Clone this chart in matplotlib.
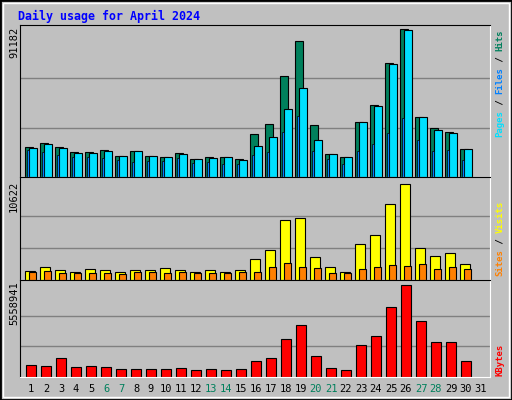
import matplotlib
matplotlib.use("Agg")
import matplotlib.pyplot as plt
from matplotlib.patches import Rectangle

days = list(range(1, 32))
weekend = [6, 7, 13, 14, 20, 21, 27, 28]

hits = [18770, 21250, 18770, 15680, 15680, 16920, 13200, 16300, 13200, 12580, 15060, 11350, 12580, 12580, 11350,
        26200, 32390, 62090, 83750, 31770, 14440, 12580, 33630, 44150, 70140, 91182, 36720, 29910, 27440, 17530]
files = [18150, 20630, 18150, 15060, 15060, 16300, 13200, 16300, 13200, 12580, 14440, 11350, 11970, 12580, 10730,
         19390, 24340, 41670, 54670, 22490, 14440, 12580, 33630, 43530, 69520, 90560, 36720, 28680, 26820, 17530]
pages = [16500, 15680, 13820, 12580, 12580, 11970, 10730, 9490, 10110, 10110, 11970, 8870, 9490, 8250, 8250,
         13820, 15680, 27440, 37340, 16300, 11350, 8250, 16300, 20630, 26820, 36100, 22490, 16300, 16920, 10730]
visits = [960, 1420, 1070, 840, 1190, 1070, 840, 1070, 1070, 1300, 1070, 840, 1070, 840, 1070,
          2340, 3370, 6600, 6830, 2570, 1420, 840, 3950, 4990, 8440, 10622, 3600, 2680, 3030, 1760]
sites = [840, 960, 730, 730, 730, 730, 610, 840, 840, 730, 840, 730, 730, 730, 840,
         840, 1420, 1880, 1420, 1300, 730, 730, 1190, 1420, 1650, 1530, 1760, 1190, 1420, 1190]
kbytes = [750670, 689800, 1176570, 628940, 689800, 628940, 507200, 507200, 507200, 507200, 568070, 446330, 507200, 446330, 507200,
          994000, 1176570, 2272050, 3123290, 1298300, 568070, 446330, 1906890, 2454620, 4219680, 5558941, 3367710, 2089460, 2089460, 994000]

W, H = 512, 400
fig = plt.figure(figsize=(W / 100, H / 100), dpi=100)
fig.patch.set_facecolor("#C0C0C0")
mono = "DejaVu Sans Mono"

# outer bevel
fig.patches.append(Rectangle((0, 0), 1, 1, transform=fig.transFigure, fill=False, ec="black", lw=2))
fig.patches.append(Rectangle((3 / W, 3 / H), 1 - 6 / W, 1 - 6 / H, transform=fig.transFigure, fill=False, ec="white", lw=1))

def ax_at(top, bottom):
    ax = fig.add_axes([20 / W, 1 - bottom / H, 470 / W, (bottom - top) / H])
    ax.set_facecolor("#C0C0C0")
    ax.set_xlim(2 / 3, 32)
    ax.set_xticks([])
    ax.set_yticks([])
    for s in ("left", "top"):
        ax.spines[s].set_color("black")
    for s in ("right", "bottom"):
        ax.spines[s].set_color("white")
    return ax

def grid(ax, top):
    for k in (1, 2):
        ax.axhline(top * k / 3, color="#808080", lw=1, zorder=0)

x = days[:30]
# top panel
ax1 = ax_at(25, 177)
mx = 91182
ax1.set_ylim(0, mx * 152 / 148)
grid(ax1, mx)
ax1.bar(x, hits, width=8 / 15, align="edge", color="#00805C", ec="black", lw=0.8)
ax1.bar([d + 4 / 15 for d in x], files, width=8 / 15, align="edge", color="#00E0FF", ec="black", lw=0.8)
ax1.bar([d + 2 / 15 for d in x], pages, width=2 / 15, align="edge", color="#0080FF", ec="black", lw=0.5)

# middle panel
ax2 = ax_at(177, 280)
mv = 10622
ax2.set_ylim(0, mv * 100 / 93)
grid(ax2, mv)
ax2.bar(x, visits, width=10 / 15, align="edge", color="#FFFF00", ec="black", lw=0.8)
ax2.bar([d + 4 / 15 for d in x], sites, width=7 / 15, align="edge", color="#FF8000", ec="black", lw=0.8)

# bottom panel
ax3 = ax_at(280, 377)
mk = 5558941
ax3.set_ylim(0, mk * 97 / 92)
grid(ax3, mk)
ax3.bar([d + 1 / 15 for d in x], kbytes, width=10 / 15, align="edge", color="#FF0000", ec="black", lw=0.8)

fig.text(18 / W, 1 - 16 / H, "Daily usage for April 2024", color="#0000FF", family=mono,
         weight="bold", fontsize=8.4, va="center")

for lab, yt in (("91182", 27), ("10622", 181), ("5558941", 281)):
    fig.text(9 / W, 1 - yt / H, lab, rotation=90, family=mono, fontsize=7.5, va="top", ha="left")

def side(parts, ybot):
    y = ybot
    for txt, col in parts:
        fig.text(500 / W, 1 - y / H, txt, rotation=90, color=col, family=mono,
                 weight="bold", fontsize=6.5, va="bottom", ha="center")
        y -= len(txt) * 5.4

side([("Pages", "#00E0FF"), (" / ", "#000000"), ("Files", "#0080FF"), (" / ", "#000000"), ("Hits", "#00805C")], 137)
side([("Sites", "#FF8000"), (" / ", "#000000"), ("Visits", "#FFFF00")], 276)
side([("KBytes", "#FF0000")], 376)

for d in days:
    fig.text((25 + 15 * (d - 1) + 6) / W, 1 - 389 / H, str(d), family=mono, fontsize=7.5,
             ha="center", va="center", color="#00805C" if d in weekend else "black")

fig.savefig("out.png", dpi=100, facecolor=fig.get_facecolor())
